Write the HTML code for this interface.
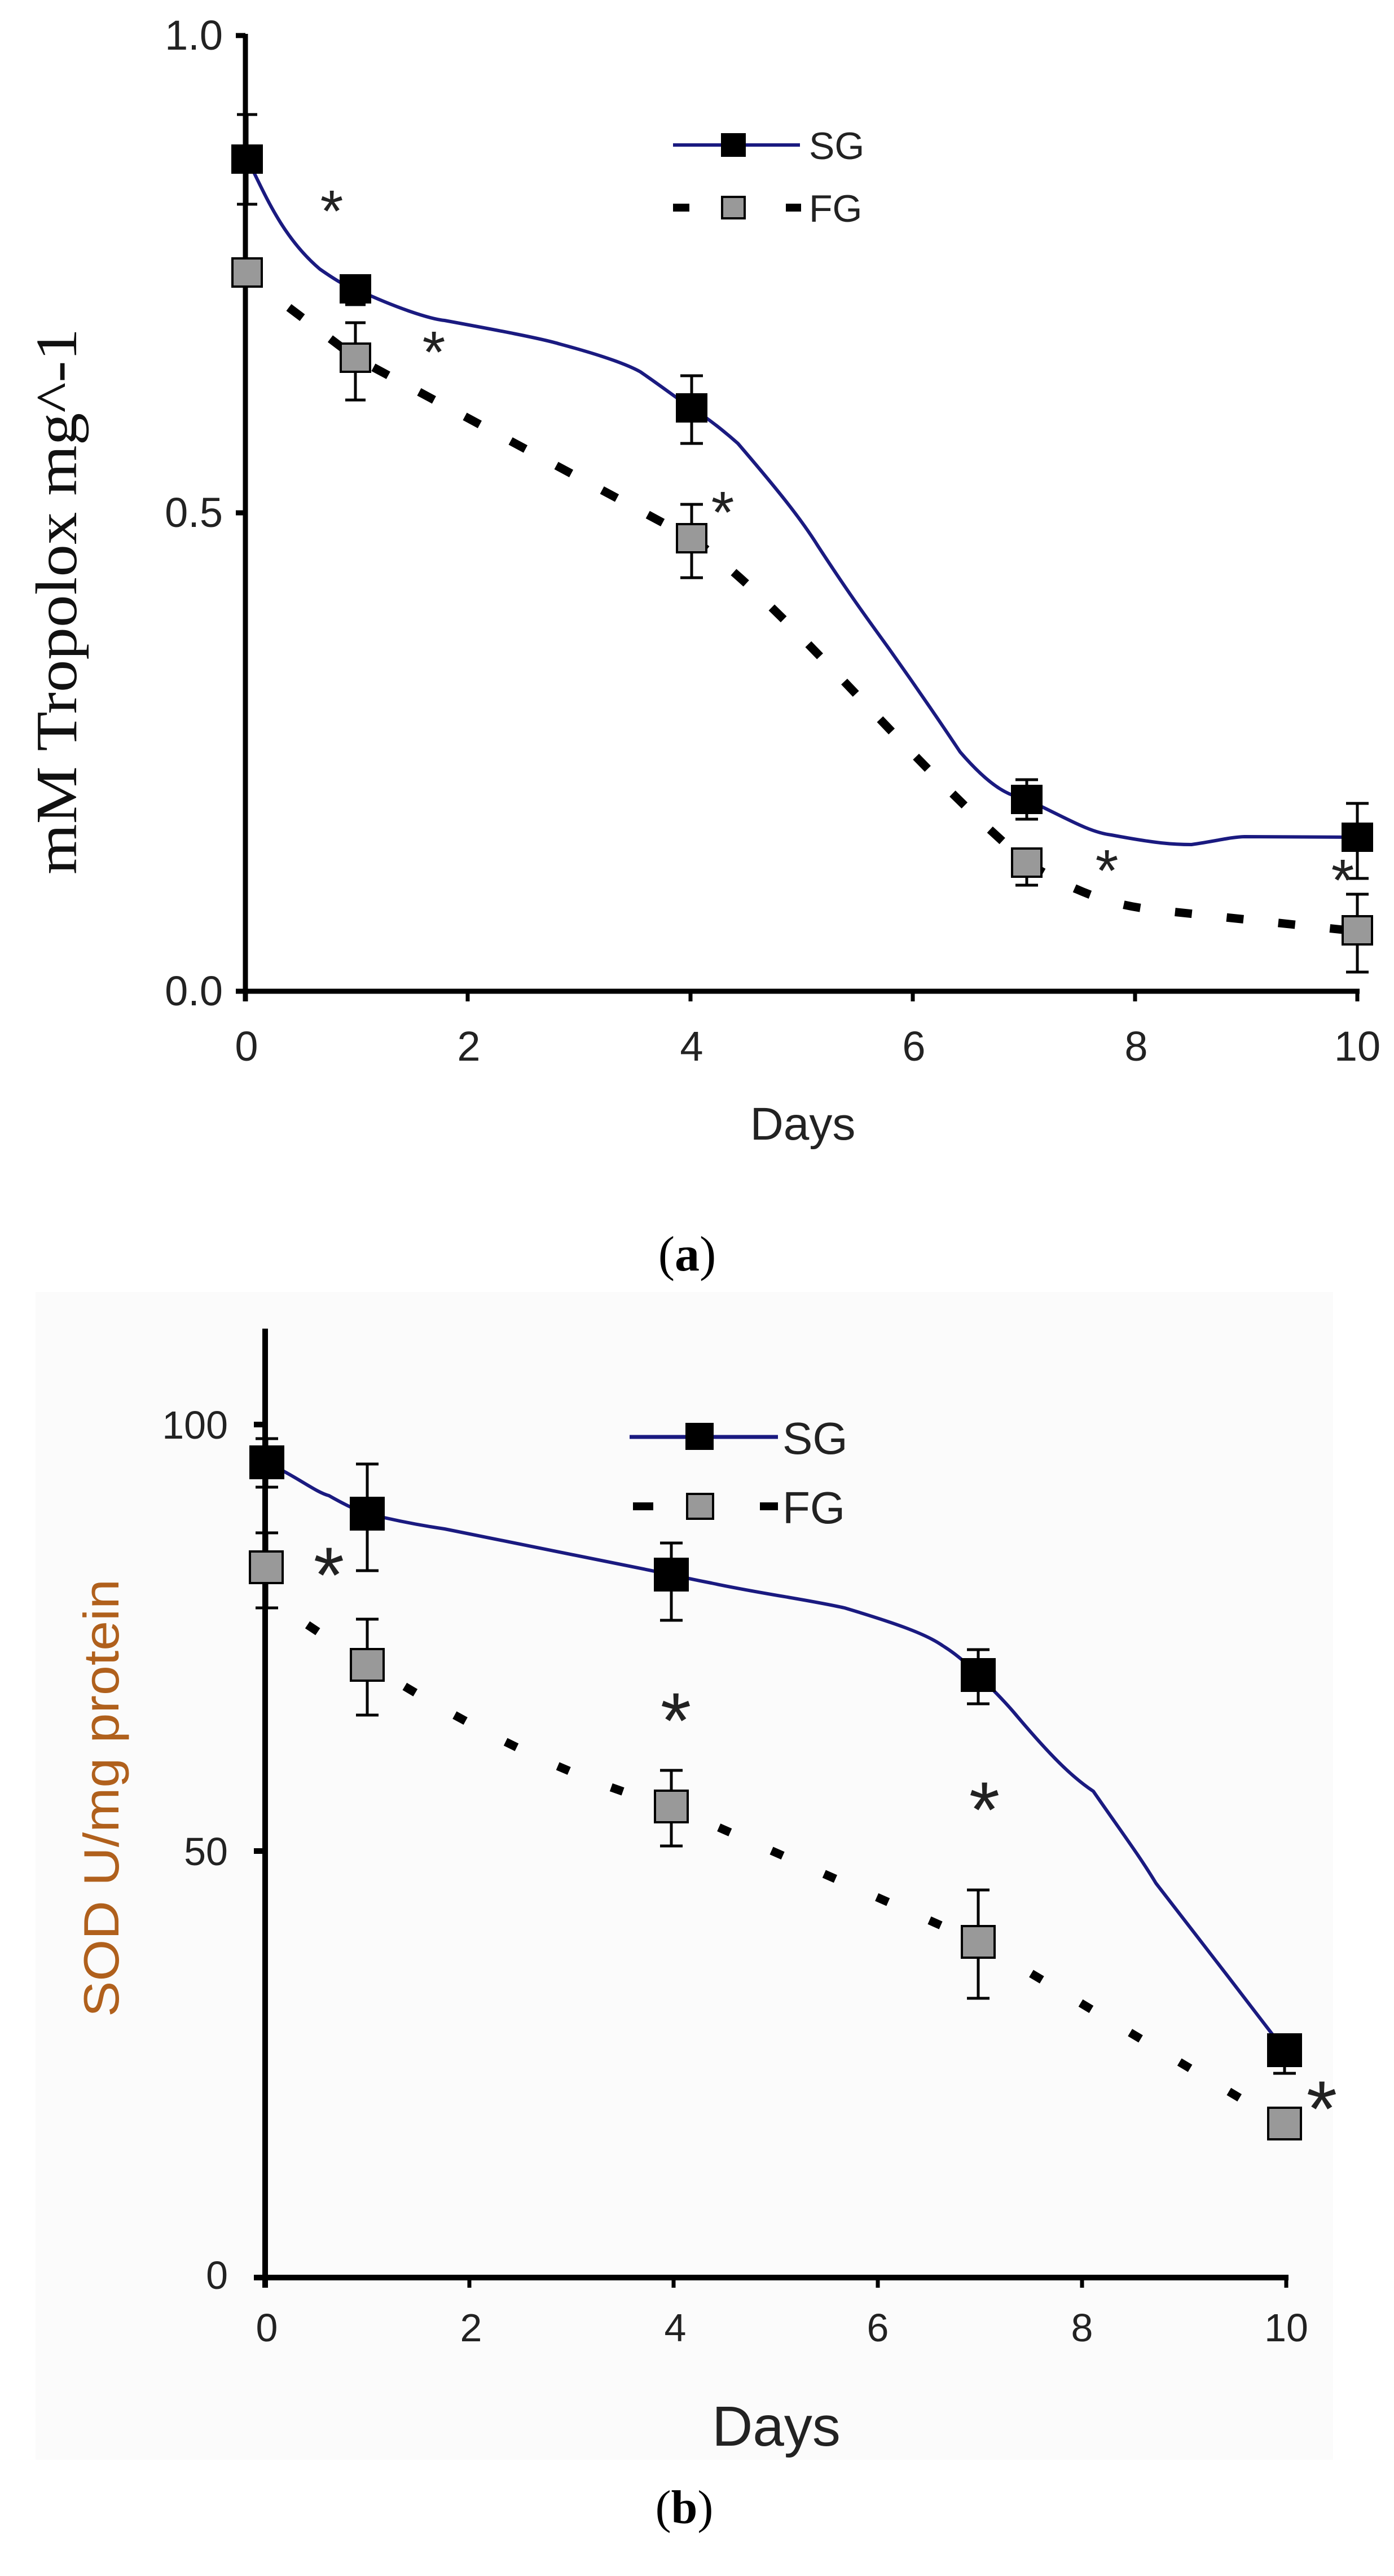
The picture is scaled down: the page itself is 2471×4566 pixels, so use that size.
<!DOCTYPE html>
<html><head><meta charset="utf-8"><style>
html,body{margin:0;padding:0;background:#fff;}
svg{display:block;}
.s{font-family:"Liberation Sans",sans-serif;}
.r{font-family:"Liberation Serif",serif;}
</style></head><body>
<svg width="2471" height="4566" viewBox="0 0 2471 4566" xmlns="http://www.w3.org/2000/svg" class="s">
<rect width="2471" height="4566" fill="#fff"/>
<!-- ============ Chart A ============ -->
<g stroke="#000" stroke-width="9" fill="none">
<line x1="435" y1="60" x2="435" y2="1775"/>
<line x1="418" y1="1757" x2="2410" y2="1757"/>
<line x1="418" y1="63" x2="435" y2="63"/>
<line x1="418" y1="909" x2="435" y2="909"/>
</g>
<g stroke="#000" stroke-width="7">
<line x1="829" y1="1757" x2="829" y2="1775"/>
<line x1="1224" y1="1757" x2="1224" y2="1775"/>
<line x1="1618" y1="1757" x2="1618" y2="1775"/>
<line x1="2012" y1="1757" x2="2012" y2="1775"/>
<line x1="2406" y1="1757" x2="2406" y2="1775"/>
</g>
<g font-size="74" fill="#222" text-anchor="end">
<text x="395" y="88">1.0</text>
<text x="395" y="934">0.5</text>
<text x="395" y="1782">0.0</text>
</g>
<g font-size="74" fill="#222" text-anchor="middle">
<text x="437" y="1880">0</text>
<text x="831" y="1880">2</text>
<text x="1226" y="1880">4</text>
<text x="1620" y="1880">6</text>
<text x="2014" y="1880">8</text>
<text x="2406" y="1880">10</text>
</g>
<text x="1423" y="2020" font-size="82" fill="#222" text-anchor="middle">Days</text>
<text class="r" transform="translate(135,1066) rotate(-90)" font-size="104" fill="#111" text-anchor="middle" textLength="968" lengthAdjust="spacingAndGlyphs">mM Tropolox mg^-1</text>
<text class="r" x="1218" y="2252" font-size="88" fill="#000" text-anchor="middle">(<tspan font-weight="bold">a</tspan>)</text>

<path d="M438,281 C470,345 500,420 567,477 C600,500 615,508 630,512 C700,545 760,565 788,568 C880,585 960,600 993,610 C1060,628 1110,645 1135,659 C1180,690 1205,710 1226,723 C1260,745 1290,770 1308,786 C1380,870 1420,920 1450,968 C1510,1060 1540,1100 1576,1150 C1640,1240 1680,1300 1702,1333 C1760,1400 1790,1410 1820,1417 C1890,1450 1930,1475 1970,1480 C2050,1495 2080,1497 2112,1497 C2160,1490 2180,1484 2206,1483 L2406,1484" stroke="#1a1a80" stroke-width="6" fill="none"/>
<path d="M512,545 L630,634 L1226,954 C1400,1080 1600,1340 1820,1529 C1920,1590 1980,1605 2049,1613 L2390,1649" stroke="#000" stroke-width="15" fill="none" stroke-dasharray="30 62"/>
<g stroke="#000" stroke-width="5">
<line x1="438" y1="203" x2="438" y2="362"/><line x1="420" y1="203" x2="456" y2="203"/><line x1="420" y1="362" x2="456" y2="362"/>
<line x1="630" y1="491" x2="630" y2="540"/><line x1="612" y1="491" x2="648" y2="491"/><line x1="612" y1="540" x2="648" y2="540"/>
<line x1="1226" y1="666" x2="1226" y2="786"/><line x1="1206" y1="666" x2="1246" y2="666"/><line x1="1206" y1="786" x2="1246" y2="786"/>
<line x1="1820" y1="1382" x2="1820" y2="1452"/><line x1="1800" y1="1382" x2="1840" y2="1382"/><line x1="1800" y1="1452" x2="1840" y2="1452"/>
<line x1="2406" y1="1424" x2="2406" y2="1557"/><line x1="2386" y1="1424" x2="2426" y2="1424"/><line x1="2386" y1="1557" x2="2426" y2="1557"/>
<line x1="630" y1="572" x2="630" y2="709"/><line x1="612" y1="572" x2="648" y2="572"/><line x1="612" y1="709" x2="648" y2="709"/>
<line x1="1226" y1="894" x2="1226" y2="1024"/><line x1="1206" y1="894" x2="1246" y2="894"/><line x1="1206" y1="1024" x2="1246" y2="1024"/>
<line x1="1820" y1="1508" x2="1820" y2="1569"/><line x1="1800" y1="1508" x2="1840" y2="1508"/><line x1="1800" y1="1569" x2="1840" y2="1569"/>
<line x1="2406" y1="1585" x2="2406" y2="1723"/><line x1="2386" y1="1585" x2="2426" y2="1585"/><line x1="2386" y1="1723" x2="2426" y2="1723"/>
</g>
<g stroke="#000" stroke-width="4" fill="#999">
<rect x="412" y="458" width="52" height="50"/>
<rect x="604" y="609" width="52" height="50"/>
<rect x="1200" y="929" width="52" height="50"/>
<rect x="1794" y="1504" width="52" height="50"/>
<rect x="2380" y="1624" width="52" height="50"/>
</g>
<g fill="#000">
<rect x="410" y="256" width="56" height="52"/>
<rect x="602" y="486" width="56" height="52"/>
<rect x="1198" y="697" width="56" height="52"/>
<rect x="1792" y="1391" width="56" height="52"/>
<rect x="2378" y="1458" width="56" height="52"/>
</g>
<g font-size="105" fill="#222" text-anchor="middle">
<text x="588" y="410">*</text>
<text x="769" y="660">*</text>
<text x="1281" y="944">*</text>
<text x="1962" y="1579">*</text>
<text x="2380" y="1596">*</text>
</g>
<line x1="1193" y1="257" x2="1418" y2="257" stroke="#1a1a80" stroke-width="6"/>
<rect x="1278" y="236" width="44" height="42" fill="#000"/>
<text x="1434" y="282" font-size="68" fill="#222">SG</text>
<line x1="1193" y1="368" x2="1222" y2="368" stroke="#000" stroke-width="14"/>
<line x1="1393" y1="368" x2="1420" y2="368" stroke="#000" stroke-width="14"/>
<rect x="1280" y="349" width="40" height="38" fill="#999" stroke="#000" stroke-width="4"/>
<text x="1434" y="393" font-size="68" fill="#222">FG</text>

<!-- ============ Chart B ============ -->
<rect x="63" y="2290" width="2300" height="2070" fill="#fbfbfb"/>
<g stroke="#000" stroke-width="10" fill="none">
<line x1="470" y1="2355" x2="470" y2="4055"/>
<line x1="450" y1="4037" x2="2284" y2="4037"/>
<line x1="450" y1="2525" x2="470" y2="2525"/>
<line x1="450" y1="3281" x2="470" y2="3281"/>
</g>
<g stroke="#000" stroke-width="7">
<line x1="832" y1="4037" x2="832" y2="4055"/>
<line x1="1194" y1="4037" x2="1194" y2="4055"/>
<line x1="1556" y1="4037" x2="1556" y2="4055"/>
<line x1="1918" y1="4037" x2="1918" y2="4055"/>
<line x1="2280" y1="4037" x2="2280" y2="4055"/>
</g>
<g font-size="70" fill="#222" text-anchor="end">
<text x="404" y="2550">100</text>
<text x="404" y="3306">50</text>
<text x="404" y="4057">0</text>
</g>
<g font-size="70" fill="#222" text-anchor="middle">
<text x="473" y="4150">0</text>
<text x="835" y="4150">2</text>
<text x="1197" y="4150">4</text>
<text x="1556" y="4150">6</text>
<text x="1918" y="4150">8</text>
<text x="2280" y="4150">10</text>
</g>
<text x="1376" y="4335" font-size="100" fill="#222" text-anchor="middle">Days</text>
<text transform="translate(210,3187) rotate(-90)" font-size="88" fill="#b0601c" text-anchor="middle" textLength="776" lengthAdjust="spacingAndGlyphs">SOD U/mg protein</text>
<text class="r" x="1213" y="4472" font-size="84" fill="#000" text-anchor="middle">(<tspan font-weight="bold">b</tspan>)</text>

<path d="M473,2592 C530,2620 560,2645 583,2651 C620,2672 640,2680 651,2683 C700,2695 740,2703 788,2710 L1190,2791 C1220,2798 1240,2802 1261,2806 C1350,2825 1430,2835 1497,2850 C1580,2875 1640,2895 1671,2917 C1700,2935 1720,2955 1734,2969 C1760,2995 1780,3015 1797,3035 C1860,3110 1900,3150 1938,3175 C1990,3250 2020,3290 2049,3338 L2175,3501 L2277,3634" stroke="#1a1a80" stroke-width="6" fill="none"/>
<path d="M545,2880 C800,3050 1000,3150 1190,3202 L1734,3442 L2250,3750" stroke="#000" stroke-width="15" fill="none" stroke-dasharray="22 80"/>
<g stroke="#000" stroke-width="5">
<line x1="473" y1="2550" x2="473" y2="2636"/><line x1="453" y1="2550" x2="493" y2="2550"/><line x1="453" y1="2636" x2="493" y2="2636"/>
<line x1="651" y1="2595" x2="651" y2="2784"/><line x1="631" y1="2595" x2="671" y2="2595"/><line x1="631" y1="2784" x2="671" y2="2784"/>
<line x1="1190" y1="2735" x2="1190" y2="2872"/><line x1="1170" y1="2735" x2="1210" y2="2735"/><line x1="1170" y1="2872" x2="1210" y2="2872"/>
<line x1="1734" y1="2924" x2="1734" y2="3020"/><line x1="1714" y1="2924" x2="1754" y2="2924"/><line x1="1714" y1="3020" x2="1754" y2="3020"/>
<line x1="2277" y1="3611" x2="2277" y2="3675"/><line x1="2257" y1="3675" x2="2297" y2="3675"/>
<line x1="473" y1="2717" x2="473" y2="2850"/><line x1="453" y1="2717" x2="493" y2="2717"/><line x1="453" y1="2850" x2="493" y2="2850"/>
<line x1="651" y1="2870" x2="651" y2="3040"/><line x1="631" y1="2870" x2="671" y2="2870"/><line x1="631" y1="3040" x2="671" y2="3040"/>
<line x1="1190" y1="3138" x2="1190" y2="3272"/><line x1="1170" y1="3138" x2="1210" y2="3138"/><line x1="1170" y1="3272" x2="1210" y2="3272"/>
<line x1="1734" y1="3350" x2="1734" y2="3542"/><line x1="1714" y1="3350" x2="1754" y2="3350"/><line x1="1714" y1="3542" x2="1754" y2="3542"/>
</g>
<g stroke="#000" stroke-width="4" fill="#999">
<rect x="443" y="2750" width="58" height="56"/>
<rect x="622" y="2923" width="58" height="56"/>
<rect x="1161" y="3174" width="58" height="56"/>
<rect x="1705" y="3414" width="58" height="56"/>
<rect x="2248" y="3736" width="58" height="56"/>
</g>
<g fill="#000">
<rect x="442" y="2562" width="62" height="60"/>
<rect x="620" y="2653" width="62" height="60"/>
<rect x="1159" y="2761" width="62" height="60"/>
<rect x="1703" y="2939" width="62" height="60"/>
<rect x="2246" y="3604" width="62" height="60"/>
</g>
<g font-size="140" fill="#222" text-anchor="middle">
<text x="583" y="2840">*</text>
<text x="1198" y="3098">*</text>
<text x="1745" y="3256">*</text>
<text x="2343" y="3786">*</text>
</g>
<line x1="1116" y1="2547" x2="1379" y2="2547" stroke="#1a1a80" stroke-width="7"/>
<rect x="1215" y="2522" width="50" height="48" fill="#000"/>
<text x="1387" y="2577" font-size="80" fill="#222">SG</text>
<line x1="1122" y1="2670" x2="1158" y2="2670" stroke="#000" stroke-width="14"/>
<line x1="1347" y1="2670" x2="1379" y2="2670" stroke="#000" stroke-width="14"/>
<rect x="1218" y="2648" width="46" height="44" fill="#999" stroke="#000" stroke-width="4"/>
<text x="1387" y="2700" font-size="80" fill="#222">FG</text>
</svg>
</body></html>
